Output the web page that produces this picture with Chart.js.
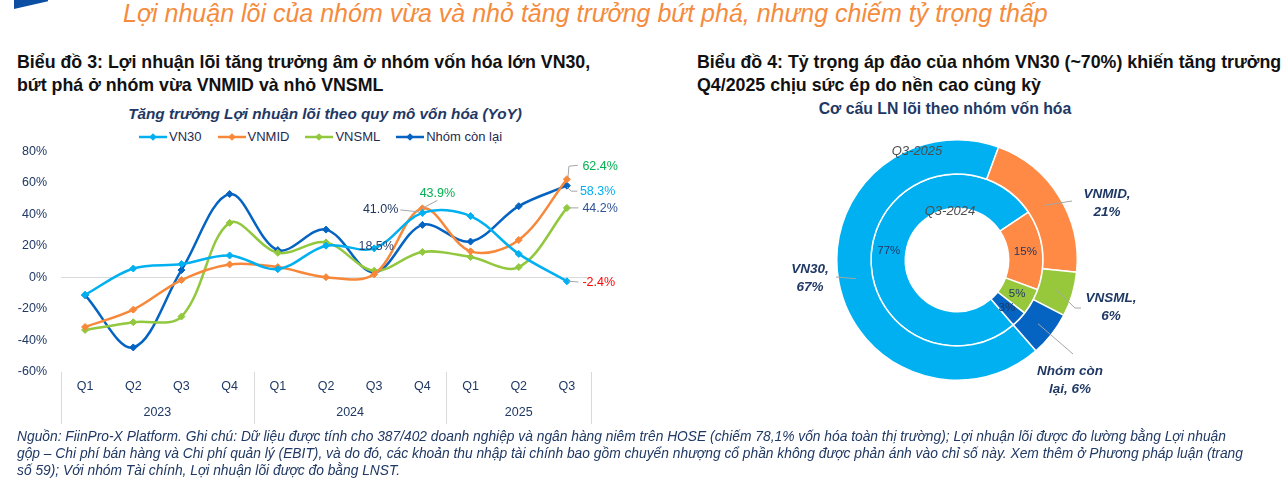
<!DOCTYPE html>
<html lang="vi">
<head>
<meta charset="utf-8">
<title>Lợi nhuận lõi theo quy mô vốn hóa</title>
<script src="https://cdn.jsdelivr.net/npm/chart.js@4.4.1/dist/chart.umd.min.js"></script>
<style>
  html, body { margin: 0; padding: 0; }
  body { width: 1288px; height: 485px; position: relative; overflow: hidden; background: #fff;
         font-family: "Liberation Sans", Arial, sans-serif; }
  .abs { position: absolute; }
  .flag { left: 14px; top: 0; width: 34px; height: 9px; background: #0B4EA2;
          clip-path: polygon(0 0, 100% 0, 100% 15%, 0 100%); }
  .headline { left: 123px; top: -1px; font-style: italic; font-size: 25px; color: #F58B3D; white-space: nowrap; }
  .section { top: 51px; font-weight: bold; font-size: 17.8px; line-height: 23px; color: #111; white-space: nowrap; }
  .chart-title { left: 0; width: 650px; top: 105px; text-align: center; font-weight: bold; font-style: italic;
                 font-size: 15.3px; color: #1F3864; }
  .legend { left: 139px; top: 129px; display: flex; gap: 16px; font-size: 13px; color: #1F2A4F; }
  .legend span { display: flex; align-items: center; gap: 2px; }
  .donut-title { left: 640px; width: 610px; top: 100px; text-align: center;
                 font-weight: bold; font-size: 15.8px; color: #1F3864; }
  .note { left: 17px; top: 428px; font-style: italic; font-size: 13.8px; line-height: 17px; color: #1F3864; white-space: nowrap; }
  .box { position: absolute; }
</style>
</head>
<body>
<div class="abs flag"></div>
<div class="abs headline">Lợi nhuận lõi của nhóm vừa và nhỏ tăng trưởng bứt phá, nhưng chiếm tỷ trọng thấp</div>

<div class="abs section" style="left:17px">Biểu đồ 3: Lợi nhuận lõi tăng trưởng âm ở nhóm vốn hóa lớn VN30,<br>bứt phá ở nhóm vừa VNMID và nhỏ VNSML</div>
<div class="abs section" style="left:697px">Biểu đồ 4: Tỷ trọng áp đảo của nhóm VN30 (~70%) khiến tăng trưởng<br>Q4/2025 chịu sức ép do nền cao cùng kỳ</div>

<div class="abs chart-title">Tăng trưởng Lợi nhuận lõi theo quy mô vốn hóa (YoY)</div>
<div class="abs legend" id="legend"></div>
<div class="abs donut-title">Cơ cấu LN lõi theo nhóm vốn hóa</div>

<div class="box" style="left:0; top:130px; width:640px; height:300px"><canvas id="growthChart"></canvas></div>
<div class="box" style="left:640px; top:125px; width:648px; height:280px"><canvas id="shareChart"></canvas></div>

<div class="abs note">Nguồn: FiinPro-X Platform. Ghi chú: Dữ liệu được tính cho 387/402 doanh nghiệp và ngân hàng niêm trên HOSE (chiếm 78,1% vốn hóa toàn thị trường); Lợi nhuận lõi được đo lường bằng Lợi nhuận<br>gộp – Chi phí bán hàng và Chi phí quản lý (EBIT), và do đó, các khoản thu nhập tài chính bao gồm chuyển nhượng cổ phần không được phản ánh vào chỉ số này. Xem thêm ở Phương pháp luận (trang<br>số 59); Với nhóm Tài chính, Lợi nhuận lõi được đo bằng LNST.</div>

<script>
// --- data ---
const QUARTERS = ['Q1', 'Q2', 'Q3', 'Q4', 'Q1', 'Q2', 'Q3', 'Q4', 'Q1', 'Q2', 'Q3'];
const YEARS = ['2023', '2024', '2025'];
const YEAR_SPANS = [4, 4, 3];

const VN30   = [-11.0,   5.7,   8.5, 14.0,  5.3, 20.2, 18.5, 41.0, 39.0, 15.0, -2.4];
const VNMID  = [-31.4, -20.4,  -1.6,  8.3,  6.6,  0.2,  2.0, 43.9, 16.6, 23.8, 62.4];
const VNSML  = [-33.3, -28.4, -24.8, 34.7, 15.7, 22.3,  4.3, 16.2, 13.0,  6.6, 44.2];
const OTHERS = [-11.2, -44.4,   4.7, 53.0, 17.4, 30.4,  3.2, 33.4, 22.8, 45.3, 58.3];

const GROUPS = ['VN30', 'VNMID', 'VNSML', 'Nhóm còn lại'];
const SHARE_Q3_2025 = [67, 21, 6, 6];
const SHARE_Q3_2024 = [77, 15, 5, 3];
const RING_NAMES = ['Q3-2025', 'Q3-2024'];

const LINE_COLORS  = ['#00B0F0', '#F7883A', '#92C83E', '#0563C1'];
const DONUT_COLORS = ['#00B0F0', '#FF8A45', '#97C83C', '#0563C1'];
const NAVY = '#1F3864';
const FONT = '"Liberation Sans", Arial, sans-serif';

const pct = v => `${v.toFixed(1)}%`;

// --- html legend (line + diamond markers) ---
document.getElementById('legend').innerHTML = GROUPS.map((name, i) =>
  `<span><svg width="28" height="10"><line x1="0" y1="5" x2="28" y2="5" stroke="${LINE_COLORS[i]}" stroke-width="2.5"/>` +
  `<polygon points="14,1.2 17.8,5 14,8.8 10.2,5" fill="${LINE_COLORS[i]}"/></svg>${name}</span>`
).join('');

// labels on selected points: offsets in px from the point, leader as polyline offsets
const growthLabels = [
  { ds: 0, i: 7,  color: NAVY,      align: 'right', dx: -24,  dy: -3,   leader: [[-3, -1], [-22, -3]] },
  { ds: 1, i: 7,  color: '#00B050', align: 'center', dx: 15,  dy: -15,  leader: [[0, 0], [15, -8]] },
  { ds: 0, i: 6,  color: '#333F6B', align: 'center', dx: 2,   dy: -2,   leader: null },
  { ds: 1, i: 10, color: '#00B050', align: 'left',  dx: 15.5, dy: -13,  leader: [[1, -1], [2, -13], [11, -14]] },
  { ds: 3, i: 10, color: '#00B0F0', align: 'left',  dx: 13,   dy: 6,    leader: [[0, 1.5], [4.5, 5.5], [10.5, 5.5]] },
  { ds: 2, i: 10, color: '#2F5597', align: 'left',  dx: 15.5, dy: 0.5,  leader: [[2, 0], [11.5, 0]] },
  { ds: 0, i: 10, color: '#FF0000', align: 'left',  dx: 15.5, dy: 1.5,  leader: [[1.5, 0], [11.5, 0.7]] },
];

const pointLabels = {
  id: 'pointLabels',
  afterDatasetsDraw(chart) {
    const { ctx } = chart;
    ctx.save();
    ctx.font = `12.5px ${FONT}`;
    ctx.textBaseline = 'middle';
    growthLabels.forEach(lb => {
      const pt = chart.getDatasetMeta(lb.ds).data[lb.i];
      if (lb.leader) {
        ctx.strokeStyle = '#A6A6A6';
        ctx.lineWidth = 1;
        ctx.beginPath();
        lb.leader.forEach(([ox, oy], k) => k ? ctx.lineTo(pt.x + ox, pt.y + oy) : ctx.moveTo(pt.x + ox, pt.y + oy));
        ctx.stroke();
      }
      ctx.fillStyle = lb.color;
      ctx.textAlign = lb.align;
      ctx.fillText(pct(chart.data.datasets[lb.ds].data[lb.i]), pt.x + lb.dx, pt.y + lb.dy);
    });
    ctx.restore();
  }
};

// two-level category axis: year row + separators
const yearGroups = {
  id: 'yearGroups',
  afterDraw(chart) {
    const { ctx, chartArea } = chart;
    const x = chart.scales.x;
    const step = x.getPixelForValue(1) - x.getPixelForValue(0);
    ctx.save();
    ctx.strokeStyle = '#D9D9D9';
    ctx.lineWidth = 1;
    ctx.fillStyle = NAVY;
    ctx.font = `12.5px ${FONT}`;
    ctx.textAlign = 'center';
    ctx.textBaseline = 'middle';
    let start = 0;
    const edge = idx => x.getPixelForValue(idx) - step / 2;
    const sep = px => {
      ctx.beginPath();
      ctx.moveTo(Math.round(px) + 0.5, chartArea.bottom);
      ctx.lineTo(Math.round(px) + 0.5, chartArea.bottom + 52);
      ctx.stroke();
    };
    sep(edge(0));
    YEARS.forEach((year, k) => {
      const end = start + YEAR_SPANS[k];
      sep(edge(end));
      ctx.fillText(year, (edge(start) + edge(end)) / 2, chartArea.bottom + 41);
      start = end;
    });
    ctx.restore();
  }
};

new Chart(document.getElementById('growthChart'), {
  type: 'line',
  data: {
    labels: QUARTERS,
    datasets: [VN30, VNMID, VNSML, OTHERS].map((values, i) => ({
      label: GROUPS[i],
      data: values,
      borderColor: LINE_COLORS[i],
      backgroundColor: LINE_COLORS[i],
      borderWidth: 2.5,
      tension: 0.35,
      pointStyle: 'rectRot',
      pointRadius: 3.5,
      pointBorderWidth: 1,
      fill: false
    }))
  },
  options: {
    responsive: true,
    maintainAspectRatio: false,
    animation: false,
    layout: { padding: { left: 0, right: 49, top: 14, bottom: 0 } },
    plugins: { legend: { display: false }, tooltip: { enabled: false } },
    scales: {
      y: {
        min: -60, max: 80,
        ticks: { stepSize: 20, padding: 14, color: NAVY, font: { size: 12.5, family: FONT }, callback: v => `${v}%` },
        grid: { drawTicks: false, color: c => c.tick && c.tick.value === 0 ? '#D9D9D9' : 'transparent' },
        border: { display: false },
        afterFit: s => { s.width = 61; }
      },
      x: {
        offset: true,
        ticks: { padding: 7, color: NAVY, font: { size: 12.5, family: FONT }, maxRotation: 0, autoSkip: false },
        grid: { display: false, drawTicks: false },
        border: { display: false },
        afterFit: s => { s.height = 58; }
      }
    }
  },
  plugins: [pointLabels, yearGroups]
});

// --- doughnut: outer ring = Q3-2025, inner ring = Q3-2024 ---
const outerLabelLayout = [
  { leader: [[-121, 17]],            text: [-147, 9] },
  { leader: [[115, -59]],            text: [150, -66] },
  { leader: [[118, 48], [124, 48]],  text: [154, 38] },
  { leader: [[116, 94]],             text: [113, 111] },
];
const ringTitleOffsets = [[-40, -109], [-7, -49]];
const outerLines = (name, v) => name === 'Nhóm còn lại' ? ['Nhóm còn', `lại, ${v}%`] : [`${name},`, `${v}%`];

const donutLabels = {
  id: 'donutLabels',
  afterDatasetsDraw(chart) {
    const { ctx } = chart;
    const outer = chart.getDatasetMeta(0).data;
    const inner = chart.getDatasetMeta(1).data;
    const cx = outer[0].x, cy = outer[0].y;
    ctx.save();
    ctx.textAlign = 'center';
    ctx.textBaseline = 'middle';

    // inner ring percentages
    ctx.font = `11.5px ${FONT}`;
    ctx.fillStyle = NAVY;
    inner.forEach((arc, j) => {
      const p = arc.tooltipPosition();
      ctx.fillText(`${SHARE_Q3_2024[j]}%`, p.x, p.y);
    });

    // ring names
    ctx.font = `italic 13px ${FONT}`;
    ctx.fillStyle = '#4D4D4D';
    RING_NAMES.forEach((n, k) => ctx.fillText(n, cx + ringTitleOffsets[k][0], cy + ringTitleOffsets[k][1]));

    // outer ring labels with leader lines
    ctx.font = `italic bold 13.5px ${FONT}`;
    outer.forEach((arc, j) => {
      const a = (arc.startAngle + arc.endAngle) / 2;
      const r = (arc.innerRadius + arc.outerRadius) / 2;
      const lay = outerLabelLayout[j];
      ctx.strokeStyle = '#A6A6A6';
      ctx.lineWidth = 1;
      ctx.beginPath();
      ctx.moveTo(cx + r * Math.cos(a), cy + r * Math.sin(a));
      lay.leader.forEach(([ox, oy]) => ctx.lineTo(cx + ox, cy + oy));
      ctx.stroke();
      ctx.fillStyle = NAVY;
      outerLines(GROUPS[j], SHARE_Q3_2025[j]).forEach((line, k) =>
        ctx.fillText(line, cx + lay.text[0], cy + lay.text[1] + k * 18));
    });
    ctx.restore();
  }
};

new Chart(document.getElementById('shareChart'), {
  type: 'doughnut',
  data: {
    labels: GROUPS,
    datasets: [
      { label: RING_NAMES[0], data: SHARE_Q3_2025, backgroundColor: DONUT_COLORS, borderColor: '#fff', borderWidth: 1.5 },
      { label: RING_NAMES[1], data: SHARE_Q3_2024, backgroundColor: DONUT_COLORS, borderColor: '#fff', borderWidth: 1.5 }
    ]
  },
  options: {
    responsive: true,
    maintainAspectRatio: false,
    animation: false,
    rotation: 139,
    cutout: '43%',
    layout: { padding: { left: 100, right: 114, top: 14, bottom: 24 } },
    plugins: { legend: { display: false }, tooltip: { enabled: false } }
  },
  plugins: [donutLabels]
});
</script>
</body>
</html>
